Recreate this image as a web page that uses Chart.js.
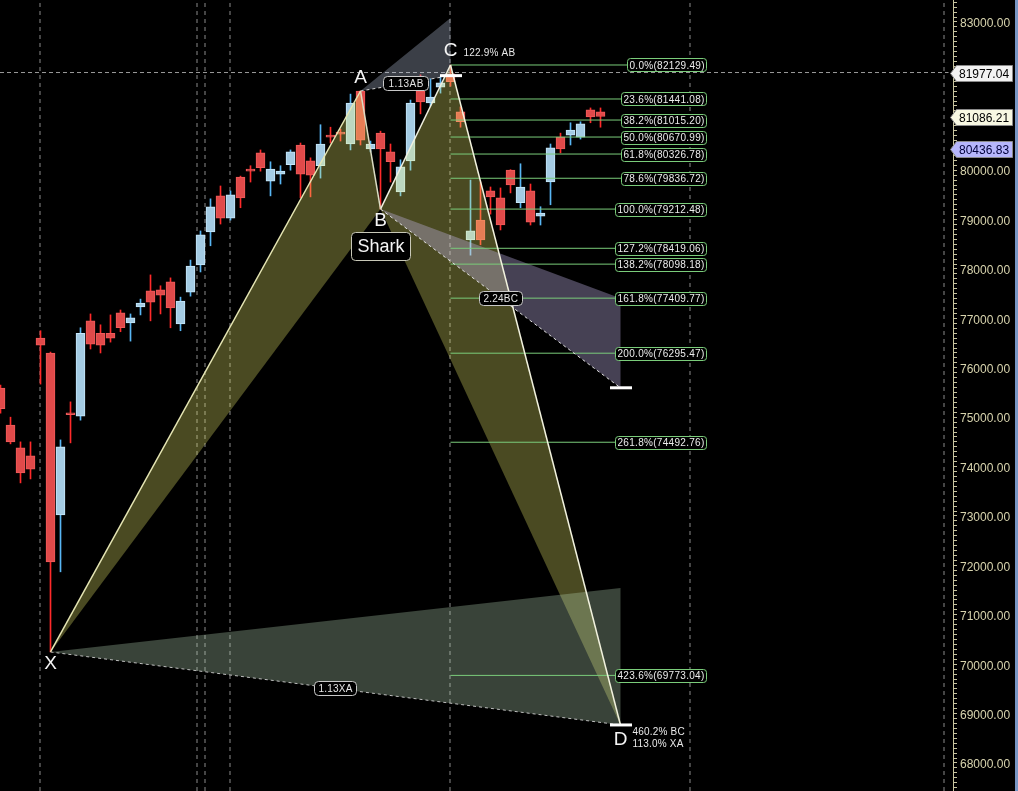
<!DOCTYPE html>
<html>
<head>
<meta charset="utf-8">
<script src="https://cdn.jsdelivr.net/npm/chart.js@4.4.1/dist/chart.umd.min.js"></script>
<style>
  html, body { margin: 0; padding: 0; background: #000; }
  canvas { display: block; }
</style>
</head>
<body>
<canvas id="chart" width="1018" height="791"></canvas>
<script>
/* ============================================================
   Shark harmonic pattern on a daily candle chart
   ============================================================ */

// ── Candles (one entry per bar, left to right) ─────────────
const candleOpen = [
  75590, 74840, 74380, 74220, 76600, 76300, 73020, 75090, 75020, 76950,
  76700, 76700, 77110, 76910, 77230, 77560, 77580, 77740, 76890, 77530,
  78080, 78750, 79480, 79030, 79860, 80020, 80350, 79780, 79920, 80110,
  80510, 80190, 80090, 80710, 80770, 80530, 81600, 80430, 80750, 80370,
  79560, 80190, 81600, 81360, 81680, 81950, 81180, 78590, 78990, 79580,
  79440, 80000, 79340, 79580, 79070, 79760, 80670, 80710, 80670, 81220,
  81180
];
const candleHigh = [
  75650, 75000, 74500, 74500, 76750, 76320, 74540, 75310, 76810, 77090,
  76870, 77070, 77170, 77090, 77390, 77880, 77660, 77820, 77430, 78180,
  78770, 79420, 79680, 79580, 79880, 80090, 80410, 80170, 80090, 80410,
  80550, 80250, 80920, 80870, 80830, 81540, 81603, 80590, 80790, 80530,
  80210, 81420, 81930, 81850, 81890, 82129.49, 81280, 79800, 79760, 79660,
  79640, 80010, 80130, 79720, 79260, 80530, 80750, 80960, 80980, 81260,
  81260
];
const candleLow = [
  75080, 74460, 73670, 73750, 75670, 70247, 71870, 74480, 74940, 76380,
  76300, 76520, 76730, 76540, 77070, 76950, 77090, 76810, 76750, 77450,
  77940, 78470, 78910, 78990, 79240, 79760, 79980, 79480, 79720, 80000,
  79440, 79460, 79840, 80550, 80590, 80410, 80510, 80370, 79212.48, 79760,
  79480, 80000, 81140, 81300, 81560, 81700, 80870, 78280, 78490, 79110,
  78790, 79540, 79240, 78890, 78890, 79300, 80350, 80510, 80630, 80960,
  80870
];
const candleClose = [
  75170, 74500, 73870, 73950, 76460, 72070, 74400, 75050, 76700, 76480,
  76460, 76600, 76810, 77010, 77310, 77330, 77470, 77210, 77350, 78060,
  78690, 79260, 79030, 79500, 79440, 79980, 80050, 80020, 79980, 80370,
  79920, 79900, 80530, 80670, 80730, 81360, 80610, 80530, 80430, 80170,
  80070, 81360, 81380, 81480, 81770, 81790, 80980, 78770, 78590, 79460,
  78890, 79700, 79660, 78950, 79130, 80450, 80430, 80810, 80940, 81080,
  81086.21
];

// ── Pattern pivots ─────────────────────────────────────────
const pointNames = ['X', 'A', 'B', 'C', 'D'];
const pointIndex = [5, 36, 38, 45, 62];
const pointPrice = [70247, 81603, 79212.48, 82129.49, 68770];

// projection zones [near, far]
const abZone = [81914, 83080];   // 1.13 .. 1.618 AB, ends at C
const bcZone = [75595, 77410];   // 1.618 .. 2.24 BC, ends at D
const xaZone = [68770, 71542];   // 0.886 .. 1.13 XA, ends at D

// ── BC fibonacci levels ────────────────────────────────────
const fibPct = [0, 23.6, 38.2, 50, 61.8, 78.6, 100, 127.2, 138.2, 161.8, 200, 261.8, 423.6];
const fibPrice = [82129.49, 81441.08, 81015.20, 80670.99, 80326.78, 79836.72, 79212.48,
  78419.06, 78098.18, 77409.77, 76295.47, 74492.76, 69773.04];

// ── Axis / markers ─────────────────────────────────────────
const yTickFirst = 68000;
const yTickLast = 83000;
const sessionLines = [3.95, 19.65, 20.45, 22.95, 44.95, 68.95, 94.35];
const crosshairPrice = 81977.04;
const priceTags = [81977.04, 81086.21, 80436.83];

const Y_MIN = 67433, Y_MAX = 83445;
const X_MIN = -0.05, X_MAX = 95.25;
const FIB_END = 70.55;

// ── helpers ────────────────────────────────────────────────
const P = k => ({ x: pointIndex[k], y: pointPrice[k] });
const [pX, pA, pB, pC, pD] = [0, 1, 2, 3, 4].map(P);

function seg(pts, color, width, dash, order) {
  return { type: 'line', data: pts, borderColor: color, borderWidth: width,
    borderDash: dash || [], pointRadius: 0, fill: false, tension: 0, order: order };
}
function poly(pts, bg, order) {
  return { type: 'line', data: pts, backgroundColor: bg, borderColor: 'rgba(0,0,0,0)',
    borderWidth: 0, pointRadius: 0, fill: 'shape', tension: 0, order: order };
}

const idx = candleOpen.map((_, i) => i);
const isUp = i => candleClose[i] >= candleOpen[i];
const bodies = up => idx.filter(i => isUp(i) === up).map(i => ({
  x: i, y: [Math.min(candleOpen[i], candleClose[i]), Math.max(candleOpen[i], candleClose[i])]
}));
const wicks = up => idx.filter(i => isUp(i) === up).map(i => ({ x: i, y: [candleLow[i], candleHigh[i]] }));

const candleSets = [
  { type: 'bar', data: wicks(false), backgroundColor: '#ff2a2a', barThickness: 1, grouped: false, borderWidth: 0, order: 31 },
  { type: 'bar', data: wicks(true), backgroundColor: '#58b6f4', barThickness: 1, grouped: false, borderWidth: 0, order: 31 },
  { type: 'bar', data: bodies(false), backgroundColor: '#e04a4a', borderColor: '#f25a5a', borderWidth: 1,
    borderSkipped: false, barThickness: 9, grouped: false, order: 30 },
  { type: 'bar', data: bodies(true), backgroundColor: '#a4cbe3', borderColor: '#c6e8fb', borderWidth: 1,
    borderSkipped: false, barThickness: 9, grouped: false, order: 30 }
];

const gridSets = sessionLines.map(v => seg([{ x: v, y: Y_MIN }, { x: v, y: Y_MAX }], '#8a8a8a', 1, [4, 4], 40));
gridSets.push(seg([{ x: X_MIN, y: crosshairPrice }, { x: 94.8, y: crosshairPrice }], '#9a9a9a', 1, [4, 3], 40));

const fillSets = [
  poly([pX, pA, pB], 'rgba(246,246,113,0.30)', 20),
  poly([pB, pC, pD], 'rgba(246,246,113,0.30)', 20),
  poly([pA, { x: pC.x, y: abZone[1] }, { x: pC.x, y: abZone[0] }], 'rgba(196,210,236,0.30)', 19),
  poly([pB, { x: pD.x, y: bcZone[1] }, { x: pD.x, y: bcZone[0] }], 'rgba(205,190,245,0.34)', 19),
  poly([pX, { x: pD.x, y: xaZone[1] }, { x: pD.x, y: xaZone[0] }], 'rgba(190,222,190,0.30)', 19)
];

const fibSets = fibPrice.map(p => seg([{ x: pC.x, y: p }, { x: FIB_END, y: p }], '#7acc7a', 1, [], 15));

const edgeSets = [
  seg([pX, pA], '#e6e6b4', 1.5, [], 10),
  seg([pA, pB], '#dcdcc4', 1.5, [], 10),
  seg([pB, pC], '#f0f0e0', 1.5, [], 10),
  seg([pC, pD], '#f2f2de', 1.5, [], 10),
  seg([pX, pD], '#bdbdbd', 1, [3, 3], 10),
  seg([pB, { x: pD.x, y: bcZone[0] }], '#e2e2e2', 1, [3, 3], 10),
  seg([pA, { x: pC.x, y: abZone[0] }], '#d4d4d4', 1, [3, 3], 10),
  seg([{ x: pC.x - 1.05, y: abZone[0] }, { x: pC.x + 1.15, y: abZone[0] }], '#ffffff', 3, [], 5),
  seg([{ x: pD.x - 1.05, y: bcZone[0] }, { x: pD.x + 1.15, y: bcZone[0] }], '#ffffff', 3, [], 5),
  seg([{ x: pD.x - 1.05, y: pD.y }, { x: pD.x + 1.15, y: pD.y }], '#ffffff', 3, [], 5)
];

// ── annotation drawing ─────────────────────────────────────
const FONT = '"Liberation Sans", Arial, sans-serif';

function box(ctx, text, left, cy, font, border, textColor, padX, h, r, spacing) {
  ctx.font = font;
  ctx.letterSpacing = (spacing || 0) + 'px';
  const w = ctx.measureText(text).width + padX * 2;
  ctx.beginPath();
  ctx.roundRect(Math.round(left) + 0.5, Math.round(cy - h / 2) + 0.5, Math.round(w), h, r);
  ctx.fillStyle = '#000';
  ctx.fill();
  ctx.strokeStyle = border;
  ctx.lineWidth = 1;
  ctx.stroke();
  ctx.fillStyle = textColor;
  ctx.textAlign = 'left';
  ctx.textBaseline = 'middle';
  ctx.fillText(text, Math.round(left) + padX + 0.5, cy + 1);
  ctx.letterSpacing = '0px';
  return w;
}
function centerBox(ctx, text, cx, cy, font, border, textColor, padX, h, r, spacing) {
  ctx.font = font;
  ctx.letterSpacing = (spacing || 0) + 'px';
  const w = ctx.measureText(text).width + padX * 2;
  box(ctx, text, cx - w / 2, cy, font, border, textColor, padX, h, r, spacing);
}

const overlay = {
  id: 'overlay',
  afterDatasetsDraw(chart) {
    const { ctx } = chart;
    const x = chart.scales.x, y = chart.scales.y;
    const px = v => x.getPixelForValue(v), py = v => y.getPixelForValue(v);
    ctx.save();

    // fib level tags
    const fibFont = '10px ' + FONT;
    fibPct.forEach((pct, k) => {
      const text = pct.toFixed(1) + '%(' + fibPrice[k].toFixed(2) + ')';
      ctx.font = fibFont;
      ctx.letterSpacing = '0.3px';
      const w = ctx.measureText(text).width + 4;
      box(ctx, text, px(FIB_END) - w, py(fibPrice[k]), fibFont, '#7acc7a', '#ececec', 2, 13, 3, 0.3);
    });

    // leg ratio tags
    const tagFont = '10px ' + FONT;
    centerBox(ctx, '1.13AB', (px(pA.x) + px(pC.x)) / 2, (py(pA.y) + py(abZone[0])) / 2, tagFont, '#c8c8c8', '#e4e4e4', 5, 14, 4, 0.4);
    centerBox(ctx, '2.24BC', (px(pB.x) + px(pD.x)) / 2, (py(pB.y) + py(bcZone[0])) / 2, tagFont, '#c8c8c8', '#e4e4e4', 4, 14, 4, 0.2);
    centerBox(ctx, '1.13XA', (px(pX.x) + px(pD.x)) / 2, (py(pX.y) + py(pD.y)) / 2, tagFont, '#c8c8c8', '#e4e4e4', 4, 14, 4, 0.2);

    // pivot letters
    const dy = [12, -13, 12, -14, 15];
    ctx.font = '19px ' + FONT;
    ctx.fillStyle = '#f4f4f4';
    ctx.textAlign = 'center';
    ctx.textBaseline = 'middle';
    pointNames.forEach((n, k) => ctx.fillText(n, px(pointIndex[k]), py(pointPrice[k]) + dy[k]));

    centerBox(ctx, 'Shark', px(pB.x), py(pB.y) + 37, '18px ' + FONT, '#c8c8b8', '#f4f4f4', 6, 28, 4);

    ctx.font = '10px ' + FONT;
    ctx.letterSpacing = '0.2px';
    ctx.fillStyle = '#e8e8e8';
    ctx.textAlign = 'left';
    ctx.textBaseline = 'middle';
    ctx.fillText('122.9% AB', px(pC.x) + 13, py(pC.y) - 12);
    ctx.fillText('460.2% BC', px(pD.x) + 12, py(pD.y) + 7);
    ctx.fillText('113.0% XA', px(pD.x) + 12, py(pD.y) + 19);
    ctx.letterSpacing = '0px';

    // price tags on the axis
    const tagFill = ['#f2f2f2', '#f8f8e2', '#b6b6fc'];
    const tagText = ['#000', '#000', '#00003a'];
    priceTags.forEach((p, k) => {
      const cy = Math.round(py(p)) + 0.5;
      const l = 950.5, r = 1012.5, h = 8;
      ctx.beginPath();
      ctx.moveTo(l, cy);
      ctx.lineTo(l + 6, cy - h);
      ctx.lineTo(r, cy - h);
      ctx.lineTo(r, cy + h);
      ctx.lineTo(l + 6, cy + h);
      ctx.closePath();
      ctx.fillStyle = tagFill[k];
      ctx.fill();
      ctx.strokeStyle = '#8a8a8a';
      ctx.stroke();
      ctx.font = '12px ' + FONT;
      ctx.fillStyle = tagText[k];
      ctx.textAlign = 'left';
      ctx.fillText(p.toFixed(2), 959, cy + 1);
    });

    // window edge
    ctx.fillStyle = '#7896c4';
    ctx.fillRect(1015, 0, 3, chart.height);
    ctx.restore();
  }
};

new Chart(document.getElementById('chart'), {
  type: 'bar',
  data: { datasets: [...gridSets, ...candleSets, ...fillSets, ...fibSets, ...edgeSets] },
  options: {
    responsive: false,
    animation: false,
    layout: { padding: 0 },
    plugins: { legend: { display: false }, tooltip: { enabled: false } },
    scales: {
      x: { type: 'linear', min: X_MIN, max: X_MAX, offset: false, display: false },
      y: {
        type: 'linear', position: 'right', min: Y_MIN, max: Y_MAX, beginAtZero: false,
        ticks: {
          stepSize: 100, autoSkip: false, includeBounds: false, padding: 3, labelOffset: 2,
          color: '#d8d4ae', font: { family: FONT, size: 12 },
          callback: v => (v % 1000 === 0 && v >= yTickFirst && v <= yTickLast) ? v.toFixed(2) : ''
        },
        grid: { drawOnChartArea: false, drawTicks: true, tickLength: 4, tickColor: '#c8c4a0' },
        border: { display: true, color: '#c8c4a0' },
        afterFit(s) { s.width = 65; s.paddingTop = 0; s.paddingBottom = 0; }
      }
    }
  },
  plugins: [overlay]
});
</script>
</body>
</html>
